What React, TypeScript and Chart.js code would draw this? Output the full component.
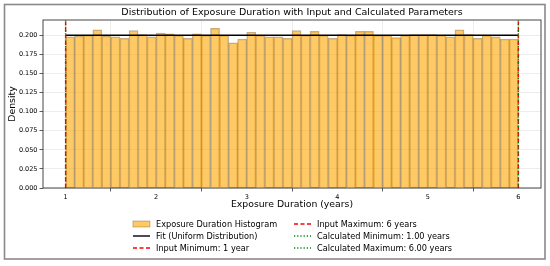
import React, { useEffect, useRef } from "react";
import { Chart, registerables } from "chart.js";

Chart.register(...registerables);

// ---------- data ----------
const binStart = 1;
const binWidth = 0.1;
const densities = [
  0.198, 0.199, 0.2, 0.207, 0.199, 0.198, 0.196, 0.206, 0.201, 0.198,
  0.203, 0.202, 0.2, 0.196, 0.202, 0.2, 0.209, 0.2, 0.19, 0.195,
  0.204, 0.2, 0.198, 0.198, 0.196, 0.206, 0.2, 0.205, 0.2, 0.196,
  0.201, 0.2, 0.205, 0.205, 0.2, 0.2, 0.197, 0.2, 0.201, 0.201,
  0.201, 0.2, 0.198, 0.207, 0.201, 0.196, 0.2, 0.198, 0.195, 0.195,
];
const fitDensity = 0.2;
const inputMin = 1;
const inputMax = 6;
const calcMin = 1.0;
const calcMax = 6.0;
const xTicks = [1, 2, 3, 4, 5, 6];
const yTicks = [0, 0.025, 0.05, 0.075, 0.1, 0.125, 0.15, 0.175, 0.2];
const xRange = [0.75, 6.25];
const yRange = [0, 0.22];

const titleText = "Distribution of Exposure Duration with Input and Calculated Parameters";
const xTitle = "Exposure Duration (years)";
const yTitle = "Density";
const legendLabels = [
  "Exposure Duration Histogram",
  "Fit (Uniform Distribution)",
  "Input Minimum: 1 year",
  "Input Maximum: 6 years",
  "Calculated Minimum: 1.00 years",
  "Calculated Maximum: 6.00 years",
];

const FONT = "'DejaVu Sans', sans-serif";
const BAR_FILL = "rgba(255,165,0,0.6)";
const BAR_EDGE = "rgba(110,80,20,0.45)";
const RED = "#ff0000";
const GREEN = "#008000";
const DASH = [4, 2.5];
const DOT = [1.2, 2];

const decor = {
  id: "decor",
  beforeDraw(chart: any) {
    const ctx = chart.ctx;
    ctx.save();
    ctx.fillStyle = "#ffffff";
    ctx.fillRect(0, 0, chart.width, chart.height);
    ctx.restore();
  },
  afterDraw(chart: any) {
    const ctx = chart.ctx;
    const ca = chart.chartArea;
    const cx = (ca.left + ca.right) / 2;
    ctx.save();
    // spines
    ctx.strokeStyle = "#333";
    ctx.lineWidth = 0.9;
    ctx.strokeRect(ca.left, ca.top, ca.right - ca.left, ca.bottom - ca.top);

    ctx.fillStyle = "#000";
    ctx.textAlign = "center";
    ctx.textBaseline = "middle";
    // title
    ctx.font = `9.5px ${FONT}`;
    ctx.fillText(titleText, cx, 13);
    // x title
    ctx.font = `9.3px ${FONT}`;
    ctx.fillText(xTitle, cx, 205);
    // y title
    ctx.save();
    ctx.translate(13, (ca.top + ca.bottom) / 2);
    ctx.rotate(-Math.PI / 2);
    ctx.fillText(yTitle, 0, 0);
    ctx.restore();

    // legend
    ctx.font = `8.2px ${FONT}`;
    ctx.textAlign = "left";
    const rows = [224, 236, 248];
    const cols = [133, 294];
    const textOff = 23;
    const hw = 17;
    legendLabels.forEach((lab, i) => {
      const col = Math.floor(i / 3);
      const row = i % 3;
      const x = cols[col];
      const y = rows[row];
      ctx.save();
      if (i === 0) {
        ctx.fillStyle = BAR_FILL;
        ctx.fillRect(x, y - 3, hw, 6);
        ctx.strokeStyle = BAR_EDGE;
        ctx.lineWidth = 0.8;
        ctx.strokeRect(x, y - 3, hw, 6);
      } else {
        ctx.beginPath();
        ctx.moveTo(x, y);
        ctx.lineTo(x + hw, y);
        ctx.lineWidth = 1.4;
        if (i === 1) {
          ctx.strokeStyle = "#000";
        } else if (i === 2 || i === 3) {
          ctx.strokeStyle = RED;
          ctx.setLineDash(DASH);
        } else {
          ctx.strokeStyle = GREEN;
          ctx.setLineDash(DOT);
        }
        ctx.stroke();
      }
      ctx.restore();
      ctx.fillStyle = "#000";
      ctx.fillText(lab, x + textOff, y + 0.5);
    });

    // figure border
    ctx.strokeStyle = "#8a8a8a";
    ctx.lineWidth = 1.6;
    ctx.strokeRect(4.5, 4.5, 540.5, 254.5);
    ctx.restore();
  },
};

export default function App() {
  const ref = useRef<HTMLCanvasElement | null>(null);

  useEffect(() => {
    document.body.style.margin = "0";
    const canvas = ref.current;
    if (!canvas) return;
    const barData = densities.map((d, i) => ({ x: binStart + (i + 0.5) * binWidth, y: d }));
    const vline = (x: number) => [
      { x, y: yRange[0] },
      { x, y: yRange[1] },
    ];
    const chart = new Chart(canvas, {
      type: "bar",
      data: {
        datasets: [
          {
            type: "line",
            data: vline(calcMin),
            borderColor: GREEN,
            borderWidth: 1.4,
            borderDash: DOT,
            pointRadius: 0,
            order: 1,
          } as any,
          {
            type: "line",
            data: vline(calcMax),
            borderColor: GREEN,
            borderWidth: 1.4,
            borderDash: DOT,
            pointRadius: 0,
            order: 1,
          } as any,
          {
            type: "line",
            data: vline(inputMin),
            borderColor: RED,
            borderWidth: 1.4,
            borderDash: DASH,
            pointRadius: 0,
            order: 2,
          } as any,
          {
            type: "line",
            data: vline(inputMax),
            borderColor: RED,
            borderWidth: 1.4,
            borderDash: DASH,
            pointRadius: 0,
            order: 2,
          } as any,
          {
            type: "line",
            data: [
              { x: inputMin, y: fitDensity },
              { x: inputMax, y: fitDensity },
            ],
            borderColor: "#000",
            borderWidth: 1.5,
            pointRadius: 0,
            order: 3,
          } as any,
          {
            type: "bar",
            data: barData,
            backgroundColor: BAR_FILL,
            borderColor: BAR_EDGE,
            borderWidth: 0.8,
            borderSkipped: "bottom",
            barPercentage: 1,
            categoryPercentage: 1,
            order: 4,
          } as any,
        ],
      },
      options: {
        animation: false,
        responsive: false,
        maintainAspectRatio: false,
        layout: { padding: { left: 0, top: 20, right: 9, bottom: 0 } },
        plugins: {
          legend: { display: false },
          title: { display: false },
          tooltip: { enabled: false },
        },
        scales: {
          x: {
            type: "linear",
            min: xRange[0],
            max: xRange[1],
            offset: false,
            afterBuildTicks: (s: any) => {
              s.ticks = xTicks.map((v) => ({ value: v }));
            },
            afterFit: (s: any) => {
              s.height = 78;
            },
            grid: {
              color: "rgba(0,0,0,0.09)",
              lineWidth: 0.8,
              drawTicks: true,
              tickLength: 3.5,
              tickColor: "#333",
            },
            border: { display: false },
            ticks: {
              font: { family: FONT, size: 6.5 },
              color: "#000",
              padding: 1.5,
              maxRotation: 0,
              callback: (v: any) => String(v),
            },
          },
          y: {
            type: "linear",
            min: yRange[0],
            max: yRange[1],
            afterBuildTicks: (s: any) => {
              s.ticks = yTicks.map((v) => ({ value: v }));
            },
            afterFit: (s: any) => {
              s.width = 43;
            },
            grid: {
              color: "rgba(0,0,0,0.09)",
              lineWidth: 0.8,
              drawTicks: true,
              tickLength: 3.5,
              tickColor: "#333",
            },
            border: { display: false },
            ticks: {
              font: { family: FONT, size: 6.5 },
              color: "#000",
              padding: 2,
              callback: (v: any) => Number(v).toFixed(3),
            },
          },
        },
      },
      plugins: [decor],
    } as any);
    return () => chart.destroy();
  }, []);

  return (
    <div style={{ position: "absolute", left: 0, top: 0, width: 550, height: 266 }}>
      <canvas ref={ref} width={550} height={266} style={{ width: 550, height: 266, display: "block" }} />
    </div>
  );
}
